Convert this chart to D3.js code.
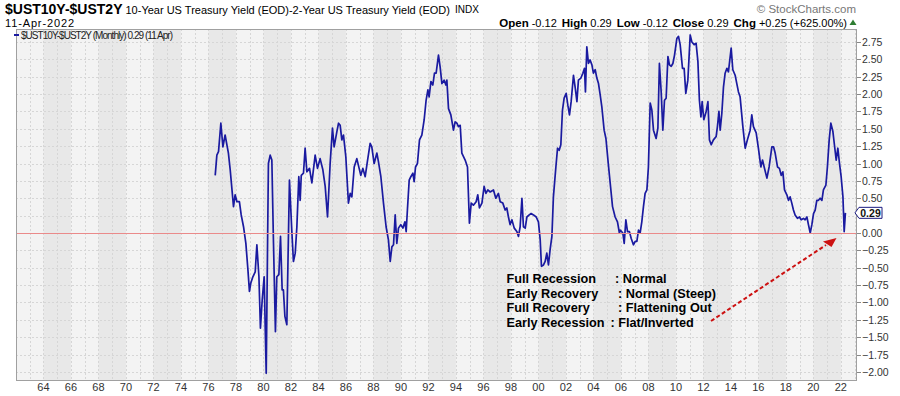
<!DOCTYPE html>
<html>
<head>
<meta charset="utf-8">
<script src="https://cdn.jsdelivr.net/npm/d3@7"></script>
<style>
body { margin: 0; background: #fff; }
svg { font-family: "Liberation Sans", Arial, sans-serif; }
</style>
</head>
<body>
<div id="chart"></div>
<script>
// month-end spread (decimal year, value in %)
var years = [1976.49,1976.61,1976.73,1976.90,1977.05,1977.21,1977.45,1977.58,1977.82,1977.94,
  1978.07,1978.25,1978.38,1978.55,1978.72,1978.87,1978.98,1979.08,1979.23,1979.40,1979.52,1979.67,1979.78,1979.91,
  1980.05,1980.20,1980.36,1980.49,1980.61,1980.73,1980.87,1980.97,1981.12,1981.24,1981.36,1981.45,1981.56,1981.70,1981.89,
  1982.07,1982.18,1982.31,1982.43,1982.57,1982.67,1982.75,1982.91,1983.03,1983.16,1983.35,1983.52,1983.76,1983.93,
  1984.12,1984.32,1984.49,1984.66,1984.85,1985.02,1985.14,1985.34,1985.46,1985.58,1985.70,1985.82,1985.99,
  1986.18,1986.31,1986.43,1986.60,1986.79,1986.96,1987.08,1987.23,1987.40,1987.56,1987.76,1987.88,
  1988.05,1988.25,1988.36,1988.54,1988.73,1988.92,1989.09,1989.22,1989.34,1989.46,1989.58,1989.70,1989.82,1989.99,
  1990.14,1990.29,1990.38,1990.47,1990.60,1990.72,1990.87,1990.96,1991.06,1991.20,1991.35,1991.52,1991.69,1991.83,1991.96,
  1992.05,1992.18,1992.32,1992.44,1992.56,1992.73,1992.85,1992.98,1993.14,1993.27,1993.34,1993.46,1993.63,1993.82,1993.94,
  1994.07,1994.18,1994.31,1994.43,1994.67,1994.84,1994.98,1995.11,1995.27,1995.47,1995.59,1995.71,1995.89,
  1996.05,1996.18,1996.32,1996.49,1996.73,1996.90,1997.09,1997.22,1997.41,1997.58,1997.70,1997.82,1997.94,
  1998.07,1998.24,1998.43,1998.55,1998.67,1998.80,1998.91,1999.04,1999.16,1999.33,1999.47,1999.64,1999.84,
  2000.00,2000.13,2000.22,2000.37,2000.49,2000.61,2000.73,2000.85,2000.98,2001.09,2001.27,2001.39,2001.51,2001.63,2001.75,2001.87,
  2002.02,2002.14,2002.26,2002.38,2002.55,2002.67,2002.80,2002.91,2003.09,2003.23,2003.35,2003.42,2003.52,2003.64,2003.76,2003.89,
  2004.00,2004.13,2004.25,2004.37,2004.49,2004.61,2004.78,2004.91,2005.09,2005.22,2005.39,2005.58,2005.75,2005.89,2005.95,
  2006.14,2006.24,2006.36,2006.48,2006.62,2006.75,2006.91,2007.04,2007.16,2007.28,2007.40,2007.52,2007.64,2007.76,2007.89,
  2008.00,2008.13,2008.25,2008.37,2008.56,2008.69,2008.80,2008.93,2009.05,2009.17,2009.29,2009.42,2009.53,2009.66,2009.78,2009.90,
  2010.07,2010.19,2010.31,2010.48,2010.60,2010.72,2010.87,2011.04,2011.16,2011.33,2011.47,2011.60,2011.71,2011.82,2011.91,
  2012.03,2012.20,2012.33,2012.44,2012.57,2012.73,2012.93,2013.02,2013.13,2013.22,2013.34,2013.46,2013.58,2013.71,2013.82,
  2014.02,2014.14,2014.31,2014.43,2014.55,2014.67,2014.87,2015.04,2015.20,2015.40,2015.52,2015.64,2015.84,
  2016.00,2016.18,2016.30,2016.42,2016.62,2016.78,2016.98,2017.10,2017.22,2017.39,2017.53,2017.66,2017.78,2017.90,
  2018.07,2018.19,2018.31,2018.43,2018.55,2018.67,2018.84,2018.99,2019.11,2019.28,2019.40,2019.53,2019.64,2019.77,2019.89,
  2020.01,2020.13,2020.25,2020.37,2020.49,2020.62,2020.73,2020.91,2021.02,2021.15,2021.27,2021.42,2021.53,2021.66,2021.78,2021.90,
  2022.02,2022.15,2022.24,2022.33];
var spread = [0.83,1.12,1.17,1.58,1.24,1.41,1.15,0.91,0.38,0.55,
  0.45,0.45,0.26,0.09,-0.15,-0.53,-0.84,-0.72,-0.63,-0.56,-0.17,-0.63,-1.37,-0.96,
  -0.63,-2.02,1.00,1.12,1.05,-0.15,-1.42,-0.63,-0.60,-0.05,-0.82,-0.82,-1.20,-1.32,0.76,
  0.00,-0.41,-0.29,0.09,0.81,0.47,0.83,0.86,1.22,0.88,0.93,0.72,1.12,0.93,
  1.07,0.91,0.67,0.23,1.00,1.51,1.24,1.46,1.58,1.55,1.34,1.41,1.10,
  0.43,0.57,0.52,0.95,1.07,0.93,0.83,0.93,0.81,1.03,1.29,1.24,
  1.00,1.15,1.03,0.81,0.43,0.09,-0.10,-0.41,-0.20,-0.17,0.26,-0.15,0.07,0.12,
  0.07,0.16,0.02,0.33,0.76,0.81,0.86,0.74,0.95,1.00,1.34,1.41,1.63,1.91,2.06,
  1.96,2.18,2.13,2.30,2.30,2.56,2.39,2.15,2.20,2.13,2.20,1.79,1.70,1.48,1.60,
  1.58,1.53,1.55,1.15,1.05,0.95,0.14,0.43,0.40,0.45,0.55,0.36,0.43,
  0.67,0.57,0.62,0.59,0.62,0.50,0.57,0.45,0.43,0.33,0.36,0.23,0.12,
  0.19,0.07,0.02,-0.05,0.09,0.50,0.09,0.07,0.23,0.26,0.28,0.26,0.23,
  0.16,-0.10,-0.48,-0.46,-0.41,-0.29,-0.46,-0.24,-0.05,0.52,0.95,1.22,1.19,1.27,1.77,1.94,
  2.01,1.84,1.70,1.89,2.27,2.10,1.89,2.20,2.23,2.30,2.37,2.03,2.68,2.44,2.49,2.42,
  2.30,2.35,2.23,2.15,1.99,1.82,1.48,1.36,0.98,0.72,0.38,0.23,0.16,0.00,0.04,
  0.00,-0.15,0.19,0.02,0.02,-0.08,-0.17,-0.12,-0.12,0.04,0.00,0.16,0.38,0.57,0.62,
  0.95,1.87,1.77,1.48,1.36,1.51,2.44,2.03,1.48,1.91,1.94,2.54,2.42,2.40,2.44,2.56,
  2.80,2.83,2.71,2.37,2.37,2.01,2.20,2.85,2.75,2.71,2.73,2.47,1.91,1.67,1.89,
  1.63,1.75,1.89,1.34,1.27,1.34,1.39,1.53,1.75,1.48,1.72,2.10,2.30,2.37,2.32,
  2.66,2.35,2.27,2.15,2.03,1.96,1.53,1.22,1.34,1.48,1.70,1.53,1.44,
  1.22,0.95,1.05,0.95,0.79,0.95,1.24,1.24,1.15,0.95,0.93,0.83,0.88,0.62,
  0.55,0.47,0.52,0.43,0.33,0.26,0.21,0.23,0.19,0.21,0.19,0.23,0.12,0.00,0.12,
  0.28,0.33,0.47,0.47,0.50,0.47,0.62,0.69,0.95,1.34,1.58,1.46,1.27,1.05,1.22,1.00,
  0.81,0.52,0.02,0.29];

var xTicks = d3.range(1964, 2023, 2);
var yTicks = d3.range(-8, 12).map(function (i) { return i * 0.25; });
var phases = ["Full Recession", "Early Recovery", "Full Recovery", "Early Recession"];
var curves = [": Normal", ": Normal (Steep)", ": Flattening Out", ": Flat/Inverted"];
var ohlcLabels = ["Open", "High", "Low", "Close", "Chg"];
var ohlcValues = ["-0.12", "0.29", "-0.12", "0.29", "+0.25 (+625.00%)"];
var lastValue = 0.29;

var W = 900, H = 396,
    plot = { left: 16, right: 856, top: 29, bottom: 380 };

var svg = d3.select("#chart").append("svg")
    .attr("width", W)
    .attr("height", H);

var x = d3.scaleLinear().domain([1962.0, 2023.1]).range([plot.left, plot.right]);
var y = d3.scaleLinear().domain([-2.116, 2.936]).range([plot.bottom, plot.top]);

svg.append("clipPath").attr("id", "clip")
    .append("rect")
    .attr("x", plot.left).attr("y", plot.top)
    .attr("width", plot.right - plot.left).attr("height", plot.bottom - plot.top);

var g = svg.append("g").attr("clip-path", "url(#clip)");

// background + alternating 2-year bands
g.append("rect")
    .attr("x", plot.left).attr("y", plot.top)
    .attr("width", plot.right - plot.left).attr("height", plot.bottom - plot.top)
    .attr("fill", "#f3f3f3");

g.selectAll(".band")
    .data(d3.range(1960, 2024, 4))
    .enter().append("rect")
    .attr("class", "band")
    .attr("x", function (d) { return x(d); })
    .attr("y", plot.top)
    .attr("width", function (d) { return x(d + 2) - x(d); })
    .attr("height", plot.bottom - plot.top)
    .attr("fill", "#e8e8e8");

// grid
g.selectAll(".vgrid")
    .data(d3.range(1962, 2024))
    .enter().append("line")
    .attr("x1", function (d) { return Math.round(x(d)) + 0.5; })
    .attr("x2", function (d) { return Math.round(x(d)) + 0.5; })
    .attr("y1", plot.top).attr("y2", plot.bottom)
    .attr("stroke", "#d6d6d6")
    .attr("stroke-dasharray", "2,2");

g.selectAll(".hgrid")
    .data(yTicks.filter(function (d) { return d !== 0; }))
    .enter().append("line")
    .attr("x1", plot.left).attr("x2", plot.right)
    .attr("y1", function (d) { return Math.round(y(d)) + 0.5; })
    .attr("y2", function (d) { return Math.round(y(d)) + 0.5; })
    .attr("stroke", "#d6d6d6")
    .attr("stroke-dasharray", "2,2");

// the spread
var pts = years.map(function (d, i) { return [d, spread[i]]; });
var line = d3.line()
    .x(function (d) { return x(d[0]); })
    .y(function (d) { return y(d[1]); });

g.append("path")
    .datum(pts)
    .attr("d", line)
    .attr("fill", "none")
    .attr("stroke", "#1a1aa0")
    .attr("stroke-width", 1.7)
    .attr("stroke-linejoin", "round");

// zero line
svg.append("rect")
    .attr("x", plot.left + 1).attr("y", Math.round(y(0)))
    .attr("width", plot.right - plot.left - 1).attr("height", 1)
    .attr("fill", "#ea8a8a");

// frame
svg.append("rect")
    .attr("x", plot.left + 0.5).attr("y", plot.top + 0.5)
    .attr("width", plot.right - plot.left).attr("height", plot.bottom - plot.top)
    .attr("fill", "none")
    .attr("stroke", "#a0a0a0");

// y axis on the right (the label under the value box is hidden, as in the original)
var ly = y(lastValue);
var yShown = yTicks.filter(function (d) { return Math.abs(y(d) - ly) > 8; });
var yAxis = svg.append("g");
yAxis.selectAll(".ytick")
    .data(yShown)
    .enter().append("line")
    .attr("x1", plot.right + 1).attr("x2", plot.right + 5)
    .attr("y1", function (d) { return Math.round(y(d)) + 0.5; })
    .attr("y2", function (d) { return Math.round(y(d)) + 0.5; })
    .attr("stroke", "#888");
yAxis.selectAll(".ylab")
    .data(yShown)
    .enter().append("text")
    .attr("x", plot.right + 6)
    .attr("y", function (d) { return y(d) + 4; })
    .attr("font-size", "10.5px")
    .attr("fill", "#333")
    .text(function (d) { return d3.format(".2f")(d); });

// x axis labels
svg.append("g").selectAll(".xlab")
    .data(xTicks)
    .enter().append("text")
    .attr("x", function (d) { return x(d); })
    .attr("y", 391)
    .attr("text-anchor", "middle")
    .attr("font-size", "11px")
    .attr("fill", "#333")
    .text(function (d) { return d3.format("02d")(d % 100); });

// last value marker
svg.append("path")
    .attr("d", "M" + (plot.right - 1) + "," + ly + "L" + (plot.right + 3) + "," + (ly - 5.5) +
        "H" + (plot.right + 26) + "V" + (ly + 5.5) + "H" + (plot.right + 3) + "Z")
    .attr("fill", "#fff")
    .attr("stroke", "#1a1a80")
    .attr("stroke-width", 1);
svg.append("text")
    .attr("x", plot.right + 14.5)
    .attr("y", ly + 4)
    .attr("text-anchor", "middle")
    .attr("font-size", "10.5px")
    .attr("font-weight", "bold")
    .attr("fill", "#111")
    .text(d3.format(".2f")(lastValue));

// header
var title = svg.append("text").attr("x", 5).attr("y", 14).attr("fill", "#000");
title.append("tspan").attr("font-size", "14px").attr("font-weight", "bold").text("$UST10Y-$UST2Y");
title.append("tspan").attr("font-size", "11px").attr("dx", 3)
    .text("10-Year US Treasury Yield (EOD)-2-Year US Treasury Yield (EOD)");
svg.append("text").attr("x", 455).attr("y", 13).attr("font-size", "10px").attr("fill", "#000").text("INDX");
svg.append("text").attr("x", 5).attr("y", 26.5).attr("font-size", "11px").attr("fill", "#000")
    .attr("textLength", 69).text("11-Apr-2022");
svg.append("text").attr("x", 856).attr("y", 13).attr("text-anchor", "end")
    .attr("font-size", "11.5px").attr("fill", "#777").text("\u00a9 StockCharts.com");

var ohlc = svg.append("text").attr("x", 847).attr("y", 26.5).attr("text-anchor", "end").attr("fill", "#000");
ohlcLabels.forEach(function (lab, i) {
    ohlc.append("tspan").attr("font-size", "11.5px").attr("font-weight", "bold")
        .attr("dx", i === 0 ? 0 : 5).text(lab);
    ohlc.append("tspan").attr("font-size", "11px").attr("dx", 3).text(ohlcValues[i]);
});
svg.append("path")
    .attr("d", "M849.5,25L853,19.5L856.5,25Z")
    .attr("fill", "#2e7d32");

// legend
svg.append("line")
    .attr("x1", 14).attr("x2", 19).attr("y1", 35).attr("y2", 35)
    .attr("stroke", "#1a1aa0").attr("stroke-width", 2);
svg.append("text")
    .attr("x", 21).attr("y", 38.5)
    .attr("font-size", "10px")
    .attr("fill", "#222")
    .attr("textLength", 152)
    .text("$UST10Y-$UST2Y (Monthly) 0.29 (11 Apr)");

// annotation
var colonX = [615, 618, 618, 610.5];
var notes = svg.append("g").attr("font-size", "12.7px").attr("font-weight", "bold").attr("fill", "#000");
notes.selectAll(".phase")
    .data(phases)
    .enter().append("text")
    .attr("x", 506.5)
    .attr("y", function (d, i) { return 283 + i * 14.7; })
    .text(function (d) { return d; });
notes.selectAll(".curve")
    .data(curves)
    .enter().append("text")
    .attr("x", function (d, i) { return colonX[i]; })
    .attr("y", function (d, i) { return 283 + i * 14.7; })
    .text(function (d) { return d; });

// dashed arrow toward the latest flattening
svg.append("line")
    .attr("x1", 711).attr("y1", 321).attr("x2", 826).attr("y2", 245)
    .attr("stroke", "#cc1111")
    .attr("stroke-width", 2)
    .attr("stroke-dasharray", "4,2.5");
svg.append("path")
    .attr("d", "M836.5,238L823,241.5L831.5,247Z")
    .attr("fill", "#cc1111");
</script>
</body>
</html>
